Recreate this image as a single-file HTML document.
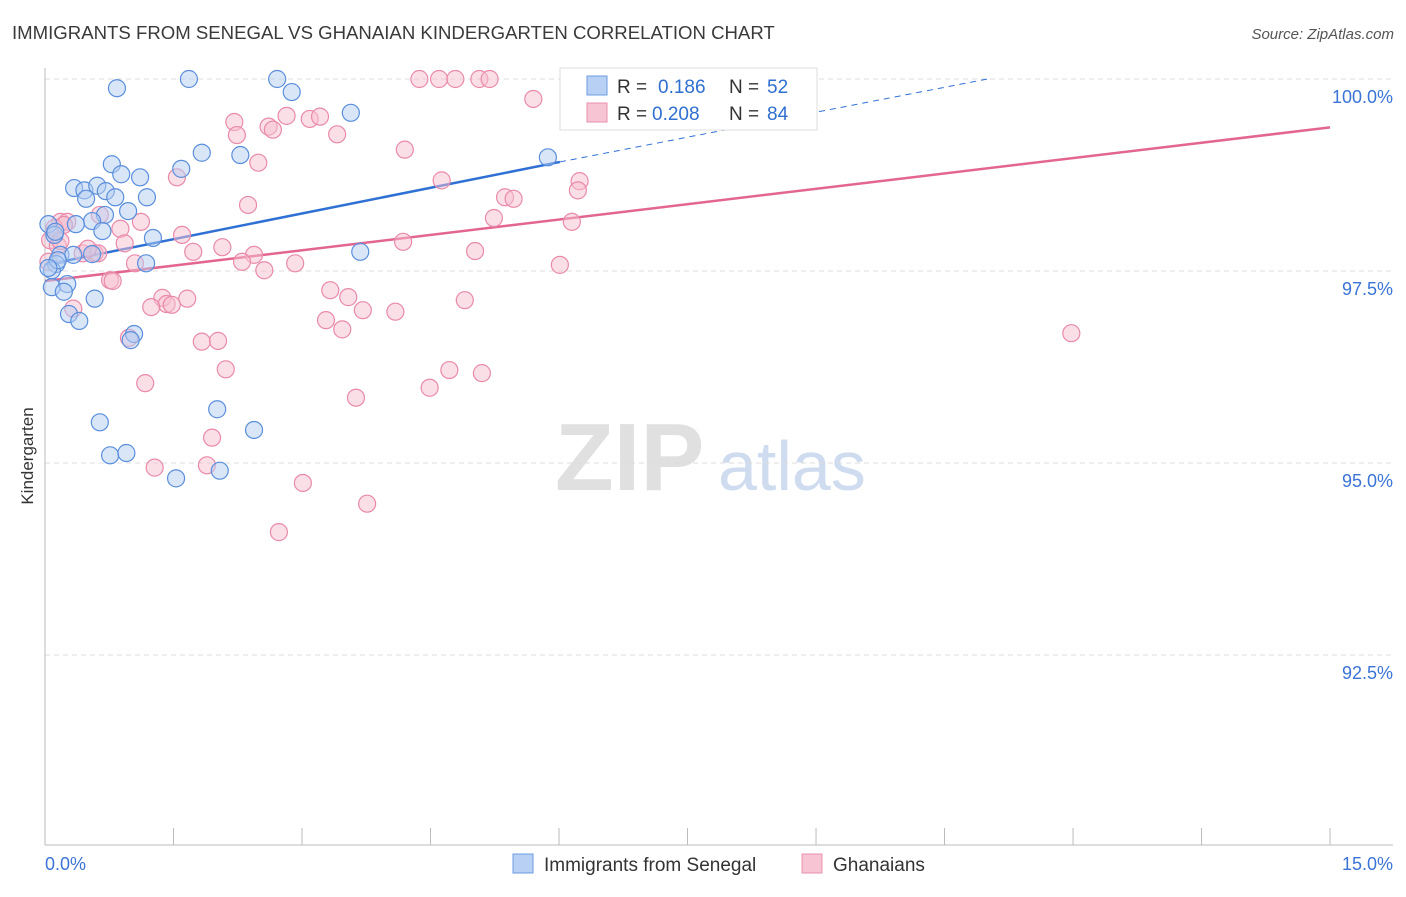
<!DOCTYPE html>
<html><head><meta charset="utf-8">
<style>
body{margin:0;background:#fff;font-family:"Liberation Sans",sans-serif;}
svg text{font-family:"Liberation Sans",sans-serif;}
</style></head>
<body>
<svg id="chart" width="1406" height="892" xmlns="http://www.w3.org/2000/svg">
<text x="12" y="39" font-size="18.6" fill="#3a3a3a">IMMIGRANTS FROM SENEGAL VS GHANAIAN KINDERGARTEN CORRELATION CHART</text>
<text x="1394" y="39" font-size="15" fill="#555" text-anchor="end" font-style="italic">Source: ZipAtlas.com</text>
<text transform="translate(33,456) rotate(-90)" font-size="17" fill="#333" text-anchor="middle">Kindergarten</text>
<g>
<text x="555" y="490" font-size="96" fill="#e0e0e0" font-family="Liberation Serif" font-weight="bold">ZIP</text>
<text x="718" y="490" font-size="70" fill="#cfdcf0">atlas</text>
</g>
<g id="grid"></g><g id="axes"></g><g id="lines"></g><g id="pts"></g>
<g>
<rect x="560" y="68" width="257" height="62" fill="#fff" stroke="#ddd"/>
<rect x="587" y="76" width="20" height="19" fill="#b8d0f3" stroke="#6a9be0"/>
<text x="617" y="93" font-size="19" fill="#333">R = </text><text x="658" y="93" font-size="19" fill="#2f6fd0">0.186</text>
<text x="729" y="93" font-size="19" fill="#333">N = </text><text x="767" y="93" font-size="19" fill="#2f6fd0">52</text>
<rect x="587" y="103" width="20" height="19" fill="#f7c4d3" stroke="#e890ad"/>
<text x="617" y="120" font-size="19" fill="#333">R = </text><text x="652" y="120" font-size="19" fill="#2f6fd0">0.208</text>
<text x="729" y="120" font-size="19" fill="#333">N = </text><text x="767" y="120" font-size="19" fill="#2f6fd0">84</text>
</g>
<g>
<rect x="513" y="854" width="20" height="19" fill="#b8d0f3" stroke="#6a9be0"/>
<text x="544" y="871" font-size="19" fill="#333">Immigrants from Senegal</text>
<rect x="802" y="854" width="20" height="19" fill="#f7c4d3" stroke="#e890ad"/>
<text x="833" y="871" font-size="19" fill="#333">Ghanaians</text>
</g>
</svg>
<script>
const blueX=[0.84,1.68,2.71,2.88,3.57,5.87,1.83,2.28,1.59,0.78,1.11,0.89,0.34,0.46,0.61,0.71,0.48,0.82,1.19,0.97,0.70,0.55,0.04,0.36,0.11,0.67,1.26,3.68,0.18,0.33,0.55,1.18,0.13,0.08,0.08,0.26,0.22,0.58,0.28,0.40,1.04,1.00,0.64,2.01,2.44,0.76,0.95,1.53,2.04,0.12,0.15,0.04];
const blueY=[99.88,100,100,99.83,99.56,98.98,99.04,99.01,98.83,98.89,98.72,98.76,98.58,98.55,98.61,98.54,98.44,98.46,98.46,98.28,98.23,98.15,98.11,98.11,97.97,98.02,97.93,97.75,97.71,97.71,97.72,97.60,97.59,97.51,97.29,97.33,97.23,97.14,96.94,96.85,96.68,96.60,95.53,95.70,95.43,95.10,95.13,94.80,94.90,98.01,97.64,97.54];
const pinkX=[4.37,4.60,4.79,5.07,5.19,5.70,2.21,2.24,2.61,2.66,2.82,3.09,3.21,3.41,4.20,2.49,1.54,4.63,6.24,6.22,5.37,5.47,2.37,5.24,6.15,0.64,1.12,0.18,0.26,0.12,0.88,1.60,0.93,2.07,2.44,4.18,5.02,1.73,0.58,0.44,2.30,1.05,2.56,2.92,6.01,0.76,0.79,3.33,3.54,1.37,1.66,1.42,1.24,1.48,3.71,4.09,4.90,3.28,3.47,11.98,0.33,1.83,2.02,0.98,2.11,4.72,5.10,1.17,3.63,4.49,1.95,1.28,1.89,3.01,3.76,2.73,0.06,0.15,0.11,0.22,0.62,0.04,0.18,0.50];
const pinkY=[100,100,100,100,100,99.74,99.44,99.27,99.38,99.34,99.52,99.48,99.51,99.28,99.08,98.91,98.72,98.68,98.67,98.55,98.46,98.44,98.36,98.19,98.14,98.23,98.14,98.14,98.14,98.01,98.05,97.97,97.86,97.81,97.71,97.88,97.76,97.75,97.73,97.73,97.62,97.60,97.51,97.60,97.58,97.38,97.37,97.25,97.16,97.15,97.14,97.07,97.03,97.06,96.99,96.97,97.12,96.86,96.74,96.69,97.01,96.58,96.59,96.63,96.22,96.21,96.17,96.04,95.85,95.98,95.33,94.94,94.97,94.74,94.47,94.10,97.90,97.83,98.06,98.10,97.73,97.62,97.89,97.79];
const yTicks=[100,97.5,95,92.5];
const yTickLabels=["100.0%","97.5%","95.0%","92.5%"];
const xTicks=[0,1.5,3,4.5,6,7.5,9,10.5,12,13.5,15];
const blueTrend=[[0,97.58],[6.01,98.92],[11.0,100.0]];
const pinkTrend=[[0,97.37],[15,99.37]];
const X=v=>45+v*85.67, Y=v=>79+(100-v)*76.8;
const NS="http://www.w3.org/2000/svg";
function mk(p,t,a){const e=document.createElementNS(NS,t);for(const k in a)e.setAttribute(k,a[k]);document.getElementById(p).appendChild(e);return e;}
yTicks.forEach((t,i)=>{
 const g=mk('grid','line',{x1:45,x2:1393,y1:Y(t),y2:Y(t),stroke:'#ddd','stroke-dasharray':'5,4'});
 
 
 const l=mk('axes','text',{x:1393,y:Y(t)+24,'font-size':18,fill:'#3b74d6','text-anchor':'end'});
 l.textContent=yTickLabels[i];
 
 
});
const ax=mk('axes','line',{x1:45,x2:45,y1:68,y2:845,stroke:'#bbb'});


const bx=mk('axes','line',{x1:45,x2:1393,y1:845,y2:845,stroke:'#bbb'});


xTicks.forEach(t=>{
 const k=mk('axes','line',{x1:X(t),x2:X(t),y1:828,y2:845,stroke:'#bbb'});
 
 
});
const xl0=mk('axes','text',{x:45,y:870,'font-size':18,fill:'#3b74d6'});xl0.textContent='0.0%';


const xl1=mk('axes','text',{x:1393,y:870,'font-size':18,fill:'#3b74d6','text-anchor':'end'});xl1.textContent='15.0%';


function dots(xs,ys,f,s,n){xs.forEach((x,i)=>{const c=mk('pts','circle',{cx:X(x),cy:Y(ys[i]),r:8.5,fill:f,'fill-opacity':0.5,stroke:s,'stroke-width':1.2});
 
 });}
dots(pinkX,pinkY,'#f7bfd0','#e98aab','ghanaians-point');
dots(blueX,blueY,'#b3cdf2','#5b8fdc','senegal-point');
const bt=mk('lines','line',{x1:X(blueTrend[0][0]),y1:Y(blueTrend[0][1]),x2:X(blueTrend[1][0]),y2:Y(blueTrend[1][1]),stroke:'#2f70d4','stroke-width':2.5});


const bd=mk('lines','line',{x1:X(blueTrend[1][0]),y1:Y(blueTrend[1][1]),x2:X(blueTrend[2][0]),y2:Y(blueTrend[2][1]),stroke:'#2f70d4','stroke-width':1,'stroke-dasharray':'6,5'});


const pt=mk('lines','line',{x1:X(pinkTrend[0][0]),y1:Y(pinkTrend[0][1]),x2:X(pinkTrend[1][0]),y2:Y(pinkTrend[1][1]),stroke:'#e2668f','stroke-width':2.5});


</script>
</body></html>
